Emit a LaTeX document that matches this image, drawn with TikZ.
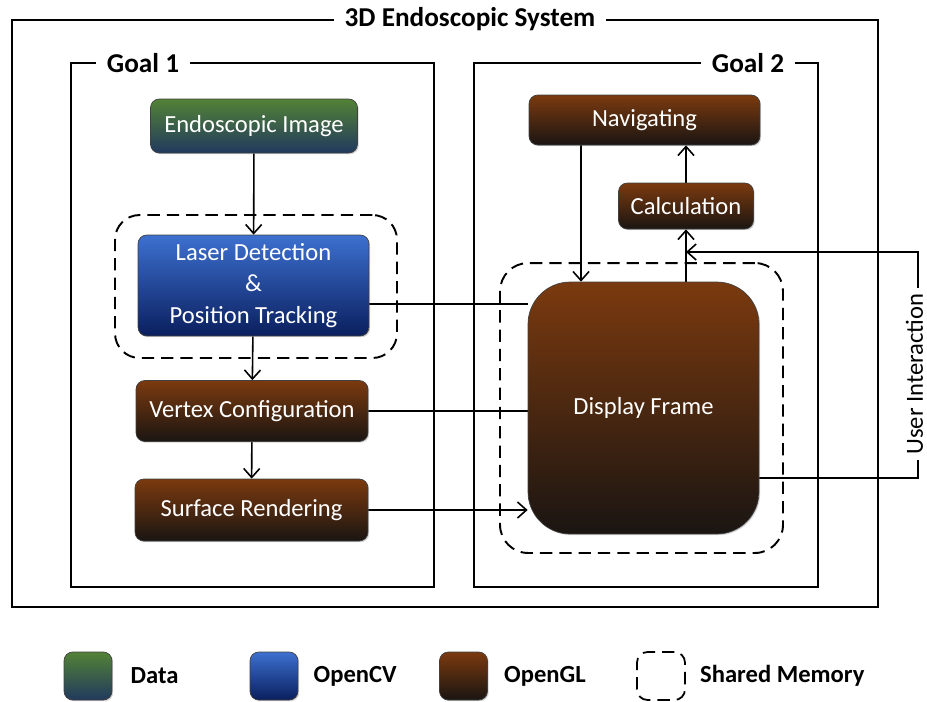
\documentclass[tikz,border=0pt]{standalone}
\usepackage{fontspec}
\setmainfont{Carlito}
\usetikzlibrary{arrows.meta,positioning,shadows,backgrounds}

\definecolor{glTop}{HTML}{7B3A0F}
\definecolor{glBot}{HTML}{1A1512}
\definecolor{cvTop}{HTML}{3D70D0}
\definecolor{cvBot}{HTML}{0A1F5E}
\definecolor{dataTop}{HTML}{538236}
\definecolor{dataBot}{HTML}{21395E}

\begin{document}
\begin{tikzpicture}[
  x=0.02cm, y=-0.02cm,
  every node/.style={font=\fontsize{14}{18}\selectfont},
  block/.style={draw=black!75, rounded corners=5pt, align=center, text=white, shading=axis,
    drop shadow={shadow xshift=0.7pt, shadow yshift=-0.7pt, opacity=0.35}},
  datablock/.style={block, top color=dataTop, middle color=dataTop, bottom color=dataBot},
  cvblock/.style={block, top color=cvTop, middle color=cvTop!80!cvBot, bottom color=cvBot},
  glblock/.style={block, top color=glTop, middle color=glTop, bottom color=glBot},
  shm/.style={draw, line width=1.1pt, dash pattern=on 7pt off 4pt, rounded corners=14pt},
  frame/.style={draw, line width=1.4pt},
  title/.style={font=\fontsize{15.5}{18}\bfseries\selectfont, fill=white, inner xsep=6pt, inner ysep=1pt},
  legbox/.style={minimum width=0.96cm, minimum height=0.96cm, rounded corners=5pt},
  legtext/.style={font=\fontsize{14}{16}\bfseries\selectfont, inner sep=0pt},
  conn/.style={line width=0.9pt},
  arr/.style={conn, -{Straight Barb[length=1.8mm, width=3.2mm]}}
]
\useasboundingbox (0,0) rectangle (927,701);

% frames
\draw[frame] (12,20) rectangle (878,607);
\node[title] (systitle) at (470,19) {3D Endoscopic System};
\draw[frame] (71,63) rectangle (434,587);
\node[title] (goalone) at (143,63) {Goal 1};
\draw[frame] (474,63) rectangle (818,587);
\node[title] (goaltwo) at (748,63) {Goal 2};

% shared memory
\node[shm, minimum width=5.64cm, minimum height=2.86cm] (shmA) at (256,286.5) {};
\node[shm, rounded corners=16pt, minimum width=5.66cm, minimum height=5.8cm] (shmB) at (641.5,408) {};

% goal 1
\node[datablock, minimum width=4.14cm, minimum height=1.08cm] (img) at (254,126) {Endoscopic Image};
\node[cvblock, minimum width=4.62cm, minimum height=2.02cm] (laser) at (253.5,285.5) {Laser Detection\\\&\\Position Tracking};
\node[glblock, minimum width=4.64cm, minimum height=1.22cm] (vertex) at (252,411) {Vertex Configuration};
\node[glblock, minimum width=4.66cm, minimum height=1.24cm] (surface) at (251.5,510) {Surface Rendering};

% goal 2
\node[glblock, minimum width=4.62cm, minimum height=1.0cm] (nav) at (644.5,120) {Navigating};
\node[glblock, minimum width=2.7cm, minimum height=0.92cm] (calc) at (686,206) {Calculation};
\node[glblock, rounded corners=24pt, minimum width=4.62cm, minimum height=5.04cm] (display) at (643.5,408) {Display Frame};
\coordinate (uicorner) at (918,252);

\begin{scope}[on background layer]
\draw[arr] (img) -- (laser);
\draw[arr] (laser) -- (vertex);
\draw[arr] (vertex) -- (surface);
\draw[conn] (laser.-9) -- (laser.-9 -| display.west);
\draw[conn] (vertex) -- (vertex -| display.west);
\draw[arr] (surface) -- (surface -| display.west);
\draw[arr] ([xshift=-1.27cm]nav.south) -- ([xshift=-1.27cm]nav.south |- display.north);
\draw[arr] (calc.south |- display.north) -- (calc.south);
\draw[arr] (calc.north) -- (calc.north |- nav.south);
\draw[arr] ([yshift=-1.4cm]display.east) -| node[pos=0.73, rotate=90, yshift=2pt, fill=white, inner xsep=3pt, inner ysep=0pt] {User Interaction} (uicorner) -- (uicorner -| calc.south);
\end{scope}

% legend
\node[datablock, legbox] (legdata) at (88,676) {};
\node[legtext, right=0.36cm of legdata] (legdatatxt) {Data};
\node[cvblock, legbox] (legcv) at (274,676) {};
\node[legtext, right=0.3cm of legcv] (legcvtxt) {OpenCV};
\node[glblock, legbox] (leggl) at (463.5,676) {};
\node[legtext, right=0.32cm of leggl] (legtxtgl) {OpenGL};
\node[shm, legbox, line width=1pt, rounded corners=6pt] (legshm) at (661,676) {};
\node[legtext, right=0.28cm of legshm] (legshmtxt) {Shared Memory};
\end{tikzpicture}
\end{document}
